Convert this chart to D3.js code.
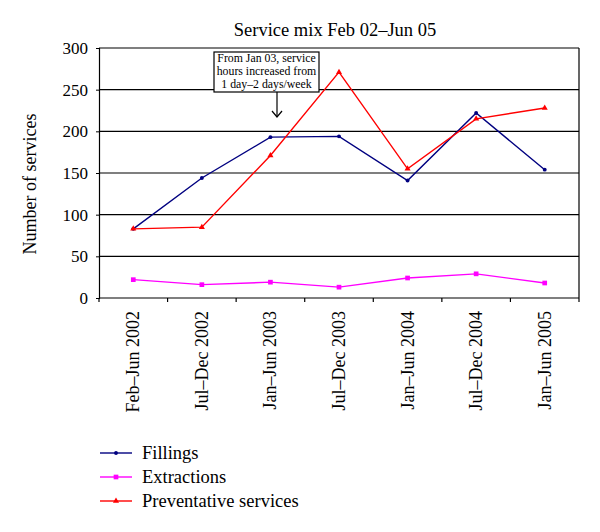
<!DOCTYPE html>
<html><head><meta charset="utf-8">
<script src="https://cdn.jsdelivr.net/npm/d3@7"></script>
<style>body{margin:0;background:#fff}svg{display:block}text{font-family:"Liberation Serif","DejaVu Serif",serif;fill:#000}</style>
</head><body><svg id="c" width="600" height="532"></svg>
<script>
const categories = ["Feb\u2013Jun 2002","Jul\u2013Dec 2002","Jan\u2013Jun 2003","Jul\u2013Dec 2003","Jan\u2013Jun 2004","Jul\u2013Dec 2004","Jan\u2013Jun 2005"];
const fillings = [83,144,193,194,141,222,154];
const extractions = [22,16,19,13,24,29,18];
const preventative = [83,85,171,271,155,215,228];
const yTicks = [0,50,100,150,200,250,300];
const seriesNames = ["Fillings","Extractions","Preventative services"];
const colors = ["#000080","#FF00FF","#FF0000"];
const symbols = [d3.symbolCircle, d3.symbolSquare, d3.symbolTriangle];
const symSizes = [12, 22, 16];

const svg = d3.select("#c");
const L=99,R=579,T=48,B=298;
const x = d3.scaleBand().domain(categories).range([L,R]);
const y = d3.scaleLinear().domain([0,300]).range([B,T]);

svg.append("text").attr("x",335).attr("y",36).attr("text-anchor","middle").attr("font-size",18.5).text("Service mix Feb 02\u2013Jun 05");

// grid
svg.append("g").selectAll("line").data(yTicks.filter(d=>d>0)).join("line")
  .attr("x1",L).attr("x2",R).attr("y1",d=>y(d)).attr("y2",d=>y(d)).attr("stroke","#000").attr("stroke-width",1.2);
svg.append("line").attr("x1",R).attr("x2",R).attr("y1",T).attr("y2",B).attr("stroke","#000").attr("stroke-width",1.2);

const ya = svg.append("g").attr("transform",`translate(${L},0)`).call(d3.axisLeft(y).tickValues(yTicks).tickSize(3).tickPadding(8));
ya.selectAll("text").attr("font-size",17).style("font-family",'"Liberation Serif",serif');
ya.select(".domain").attr("stroke-width",1.2);

const xa = svg.append("g").attr("transform",`translate(0,${B})`).call(d3.axisBottom(x).tickSize(0).tickFormat(""));
xa.select(".domain").attr("stroke-width",1.2).attr("d",`M${L},0H${R}`);
svg.append("g").selectAll("line").data(d3.range(categories.length+1)).join("line")
  .attr("x1",i=>L+i*x.step()).attr("x2",i=>L+i*x.step()).attr("y1",B).attr("y2",B+4).attr("stroke","#000").attr("stroke-width",1.2);
svg.append("g").selectAll("text").data(categories).join("text")
  .attr("transform",d=>`translate(${x(d)+x.bandwidth()/2+6},311) rotate(-90)`)
  .attr("text-anchor","end").attr("font-size",18).text(d=>d);

svg.append("text").attr("transform","translate(36,184) rotate(-90)").attr("text-anchor","middle").attr("font-size",18).text("Number of services");

const data=[fillings,extractions,preventative];
const line=d3.line().x((d,i)=>x(categories[i])+x.bandwidth()/2).y(d=>y(d));
data.forEach((s,k)=>{
  svg.append("path").attr("d",line(s)).attr("fill","none").attr("stroke",colors[k]).attr("stroke-width",1.4);
  svg.append("g").selectAll("path").data(s).join("path")
    .attr("transform",(d,i)=>`translate(${x(categories[i])+x.bandwidth()/2},${y(d)})`)
    .attr("d",d3.symbol().type(symbols[k]).size(symSizes[k]))
    .attr("fill",colors[k]);
});

// annotation
svg.append("rect").attr("x",214).attr("y",52).attr("width",105).attr("height",40).attr("fill","#fff").attr("stroke","#000").attr("stroke-width",1.2);
["From Jan 03, service","hours increased from","1 day\u20132 days/week"].forEach((t,i)=>{
  svg.append("text").attr("x",266.5).attr("y",62+i*13).attr("text-anchor","middle").attr("font-size",11.8).text(t);
});
svg.append("line").attr("x1",277).attr("x2",277).attr("y1",92).attr("y2",117).attr("stroke","#000").attr("stroke-width",1.2);
svg.append("path").attr("d","M272,111L277,117L282,111").attr("fill","none").attr("stroke","#000").attr("stroke-width",1.2);

// legend
const ly=[453,477,501];
seriesNames.forEach((n,k)=>{
  svg.append("line").attr("x1",100).attr("x2",132).attr("y1",ly[k]).attr("y2",ly[k]).attr("stroke",colors[k]).attr("stroke-width",1.4);
  svg.append("path").attr("transform",`translate(116,${ly[k]})`).attr("d",d3.symbol().type(symbols[k]).size(symSizes[k])).attr("fill",colors[k]);
  svg.append("text").attr("x",142).attr("y",ly[k]+6).attr("font-size",18.5).text(n);
});
</script></body></html>
